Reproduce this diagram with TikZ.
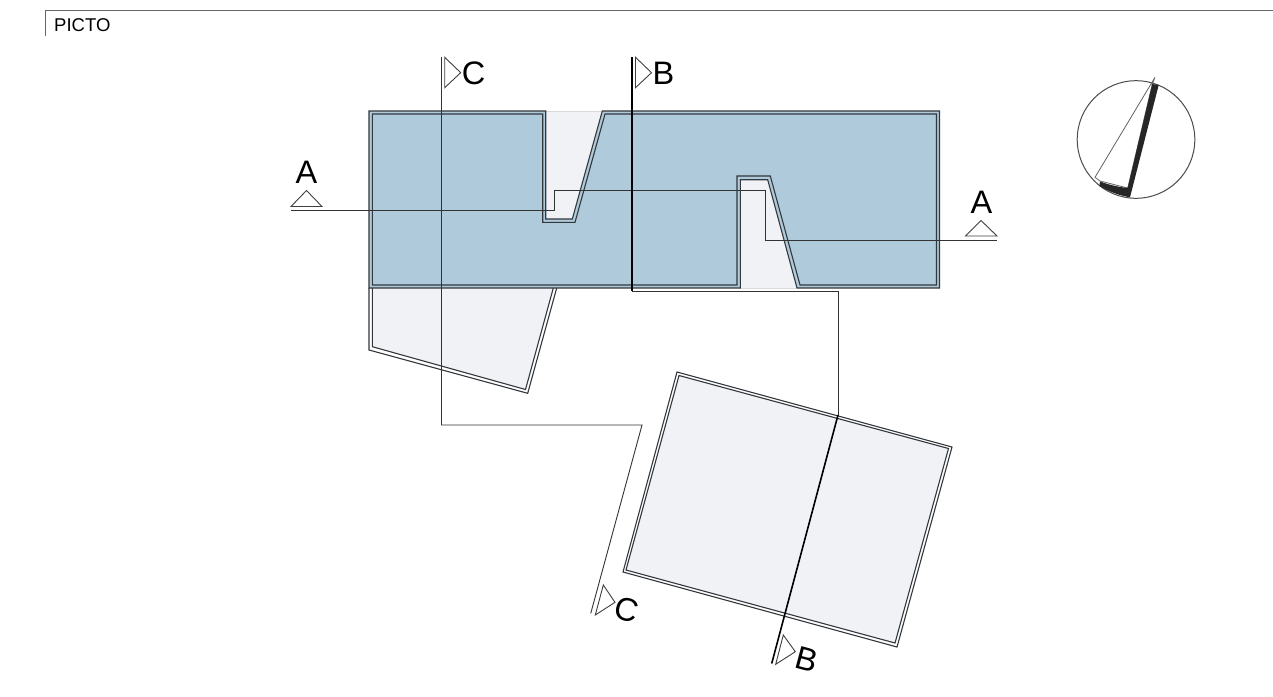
\documentclass[tikz,border=0pt]{standalone}
\usepackage{fontspec}
\setmainfont{Liberation Sans}
\definecolor{roomblue}{HTML}{AECADB}
\definecolor{roomgrey}{HTML}{F1F2F6}
\definecolor{wall}{HTML}{33383C}
\tikzset{
  wallline/.style={draw=wall,line width=1.1pt,line join=miter},
  section/.style={draw=black!80,line width=0.9pt,line join=miter},
  sectionbold/.style={draw=black,line width=1.6pt,line join=miter},
  marker/.style={draw=black!75,line width=0.9pt,fill=white,line join=miter},
  biglabel/.style={font=\fontsize{32.5}{32.5}\selectfont,inner sep=0pt,text=black},
}
\begin{document}
\begin{tikzpicture}[x=1pt,y=-1pt]
\useasboundingbox (0,0) rectangle (1273,696);
\fill[white] (0,0) rectangle (1273,696);
% frame
\draw[draw=black!60,line width=1pt] (45.5,36) -- (45.5,10) -- (1273,10);
\node[anchor=west,inner sep=0pt,font=\fontsize{18.5}{18.5}\selectfont] (picto) at (54,25) {PICTO};
% notches and rooms fill
\fill[roomgrey] (545.7,111) -- (602.3,111) -- (572.3,219) -- (545.7,219) -- cycle;
\fill[roomgrey] (740.3,179.7) -- (767.7,179.7) -- (797,288) -- (740.3,288) -- cycle;
\fill[roomgrey] (372,288) -- (553.3,288) -- (525.5,389.5) -- (372,346.7) -- cycle;
\fill[roomgrey] (679,375.5) -- (948.5,448.5) -- (895,643) -- (626,570) -- cycle;
\draw[draw=black!15,line width=1pt] (545.7,111) -- (602.3,111);
\draw[draw=black!15,line width=1pt] (740.3,288) -- (797,288);
% blue building
\fill[roomblue] (369,111) -- (545.7,111) -- (545.7,219) -- (572.3,219) -- (602.3,111) -- (939.5,111) -- (939.5,288) -- (797,288) -- (767.7,179.7) -- (740.3,179.7) -- (740.3,288) -- (369,288) -- cycle;
\draw[wallline] (545.7,111) -- (369,111) -- (369,288) -- (740.3,288) -- (740.3,179.7) -- (767.7,179.7) -- (797,288) -- (939.5,288) -- (939.5,111) -- (602.3,111) -- (572.3,219) -- (545.7,219) -- cycle;
\draw[wallline] (372.3,114) -- (542.7,114) -- (542.7,222.3) -- (575,222.3) -- (605,114) -- (936.5,114) -- (936.5,285) -- (800,285) -- (770.3,176) -- (737,176) -- (737,285) -- (372.3,285) -- cycle;
% lower-left room
\draw[wallline] (369,288) -- (369,350) -- (527.7,393.3) -- (556.7,288);
\draw[wallline] (372.3,288) -- (372.3,346.7) -- (525.5,389.5) -- (553.3,288);
% big room
\draw[wallline] (677,372) -- (952,447) -- (897,647) -- (623,572) -- cycle;
\draw[wallline] (679,375.5) -- (948.5,448.5) -- (895,643) -- (626,570) -- cycle;
% section lines
\coordinate (a1) at (291,210);
\coordinate (a2) at (554,210);
\coordinate (a3) at (554,190);
\coordinate (a4) at (765,190);
\coordinate (a5) at (765,240);
\coordinate (a6) at (997,240);
\draw[section] (a1) -- (a2) -- (a3) -- (a4) -- (a5) -- (a6);
\coordinate (c1) at (441.5,57);
\coordinate (c2) at (441.5,425);
\coordinate (c3) at (642,425);
\coordinate (c4) at (590.7,613.5);
\draw[section] (c1) -- (c2) -- (c3) -- (c4);
\coordinate (b1) at (632,57);
\coordinate (b2) at (632,291);
\coordinate (b3) at (838,291);
\coordinate (b4) at (838,415);
\coordinate (b5) at (771.7,663.5);
\draw[sectionbold] (b1) -- (b2);
\draw[section] (b2) -- (b3) -- (b4);
\draw[sectionbold] (b4) -- (b5);
% markers
\draw[marker] (291,206.5) -- (322,206.5) -- (306.5,190.5) -- cycle;
\draw[marker] (965.5,236) -- (997,236) -- (981,220.5) -- cycle;
\draw[marker] (444.7,57.3) -- (444.7,87.7) -- (460.7,72.7) -- cycle;
\draw[marker] (635.5,57.3) -- (635.5,87.7) -- (651.5,72.7) -- cycle;
\draw[marker] (603.3,585) -- (595.3,615) -- (615,602.3) -- cycle;
\draw[marker] (783.3,635) -- (775.7,664.3) -- (795.3,651.7) -- cycle;
% labels
\node[biglabel] (la1) at (306.5,172.5) {A};
\node[biglabel] (la2) at (981.5,202.5) {A};
\node[biglabel] (lc1) at (473.5,73) {C};
\node[biglabel] (lb1) at (663.5,73) {B};
\node[biglabel,rotate=-15] (lc2) at (626.7,609.5) {C};
\node[biglabel,rotate=-15] (lb2) at (806.7,659) {B};
% compass
\draw[draw=black!70,line width=1pt] (1136,139.5) circle[radius=58.8];
\draw[fill=white,draw=black!60,line width=0.8pt] (1155,77.3) -- (1095,177.3) -- (1100,181) -- (1127.7,188) -- (1152.3,84) -- cycle;
\fill[black!85] (1158.7,85) -- (1152.3,84) -- (1127.7,188) .. controls (1118,187) and (1108,184.5) .. (1100,181.5) -- (1099.3,186) .. controls (1109,191.5) and (1119,195.5) .. (1130,197.3) -- cycle;
\end{tikzpicture}
\end{document}
